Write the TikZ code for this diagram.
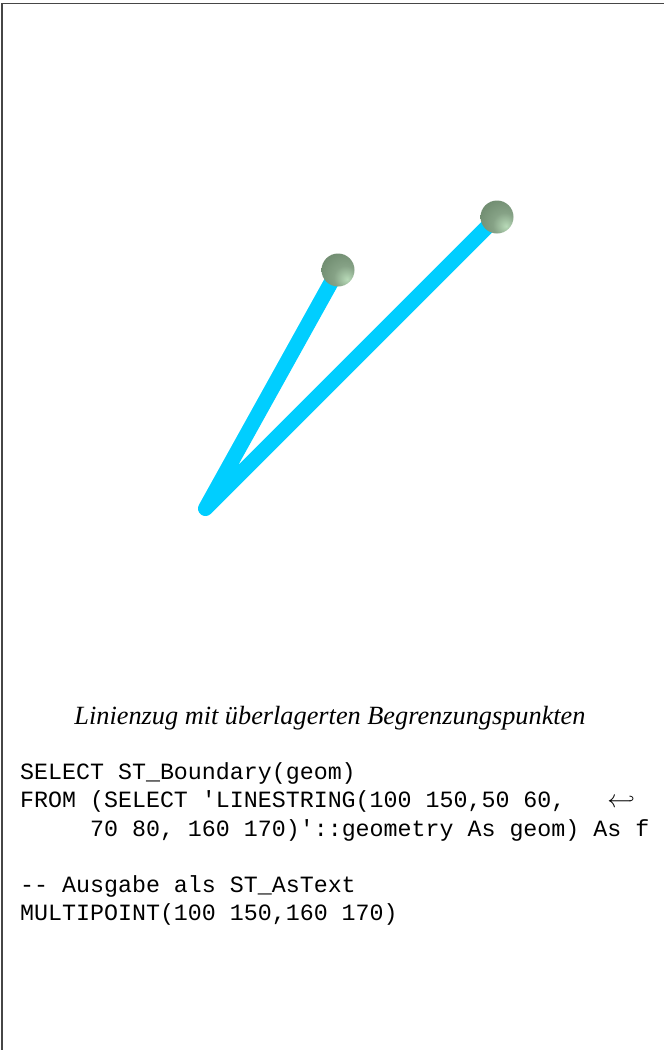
\documentclass[tikz,border=0pt]{standalone}
\usepackage{fontspec}
\setmainfont{Liberation Serif}
\setmonofont{Liberation Mono}
\usetikzlibrary{positioning}

\definecolor{linecyan}{RGB}{0,206,255}
\definecolor{ballhi}{RGB}{184,218,184}
\definecolor{ballmid}{RGB}{134,162,134}
\definecolor{balldark}{RGB}{100,128,100}
\definecolor{framegray}{RGB}{70,70,70}

% shading with its highlight low on the right
\pgfdeclareradialshading{endball}{\pgfpoint{14bp}{-14bp}}{%
  color(0bp)=(ballhi); color(18bp)=(ballmid); color(50bp)=(balldark); color(100bp)=(balldark)}

\tikzset{
  geomline/.style={draw=linecyan, line width=15pt, line cap=round, line join=round},
  endpoint/.style={shading=endball},
  codeline/.style={anchor=base west, inner sep=0pt, font=\ttfamily\fontsize{23.3}{28}\selectfont},
}

\begin{document}
\begin{tikzpicture}[x=1pt,y=1pt]
    % Page
    \useasboundingbox (0,0) rectangle (664,-1050);
    \fill[white] (0,0) rectangle (664,-1050);
    % Frame
    \draw[framegray, line width=1.6pt] (2,-1050) -- (2,-3.5) -- (664,-3.5);
    % Linestring vertices
    \coordinate (p1) at (338,-270);
    \coordinate (p2) at (205.5,-508.5);
    \coordinate (p3) at (258.5,-455.5);
    \coordinate (p4) at (497,-217);
    % Linestring
    \draw[geomline] (p1) -- (p2) -- (p3) -- (p4);
    % Boundary points
    \shade[endpoint] (p1) circle (16.5);
    \shade[endpoint] (p4) circle (16.5);
    % Caption
    \node (caption) at (330,-718) {\itshape\fontsize{26.3}{30}\selectfont Linienzug mit überlagerten Begrenzungspunkten};
    % Query
    \node[codeline] (q1) at (20,-779) {SELECT ST\_Boundary(geom)};
    \node[codeline] (q2) at (20,-807.5) {FROM (SELECT 'LINESTRING(100 150,50 60,\ \ \ $\hookleftarrow$};
    \node[codeline] (q3) at (20,-836) {\hphantom{XXXXX}70 80, 160 170)'::geometry As geom) As f};
    % Output
    \node[codeline] (r1) at (20,-892) {-- Ausgabe als ST\_AsText};
    \node[codeline] (r2) at (20,-920.5) {MULTIPOINT(100 150,160 170)};
\end{tikzpicture}
\end{document}
